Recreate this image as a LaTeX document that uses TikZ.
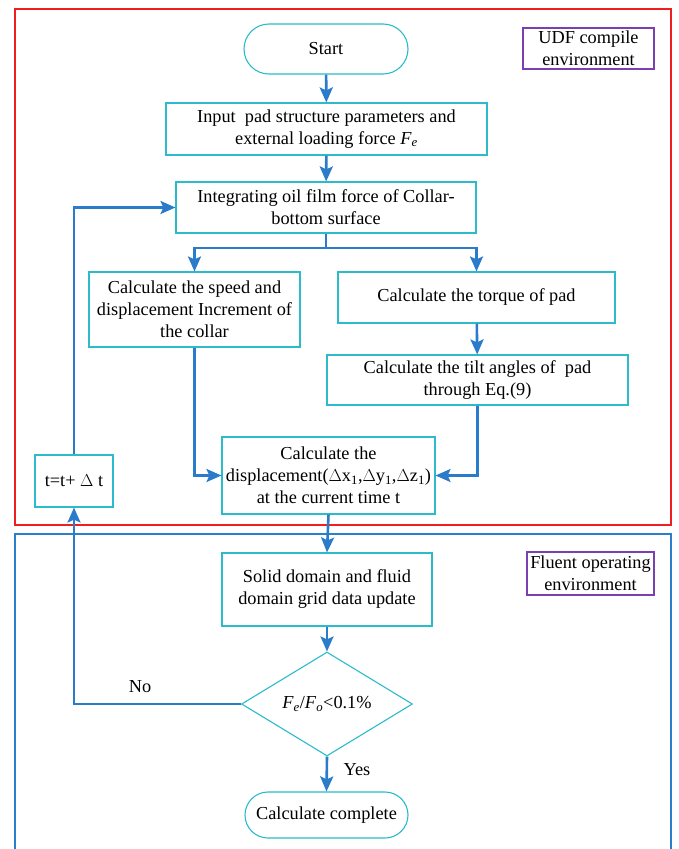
\documentclass[tikz,border=0pt]{standalone}
\usepackage{fontspec}
\setmainfont{Liberation Serif}
\usetikzlibrary{shapes.geometric,arrows.meta}
\definecolor{arrowblue}{HTML}{2A7BC9}
\definecolor{boxcyan}{HTML}{2BBBCC}
\definecolor{framered}{HTML}{F01E1E}
\definecolor{frameblue}{HTML}{2A7FCC}
\definecolor{tagpurple}{HTML}{7A3FB0}
\begin{document}
\begin{tikzpicture}[x=1pt,y=-1pt,
  font=\fontsize{18.3}{22}\selectfont,
  box/.style={draw=boxcyan, line width=1.1pt, align=center, inner sep=0pt, fill=white},
  term/.style={box, rounded corners=25pt},
  tag/.style={draw=tagpurple, line width=1.1pt, align=center, inner sep=0pt},
  frame/.style={line width=1.6pt},
  flow/.style={draw=arrowblue, line width=2.6pt, -{Stealth[length=15pt,width=13pt,inset=3pt]}},
  line/.style={draw=arrowblue, line width=2.6pt}]
\useasboundingbox (0,0) rectangle (678,849);
% frames
\draw[frame, draw=framered] (15,9) rectangle (671,525);
\draw[frame, draw=frameblue] (15,534) rectangle (671,860);
% tags
\node[tag, minimum width=131, minimum height=41] (udf) at (588.5,48.5) {UDF compile\\environment};
\node[tag, minimum width=127, minimum height=43] (fluent) at (590.5,573.5) {Fluent operating\\environment};
% nodes
\node[term, minimum width=164, minimum height=50] (start) at (326,49) {Start};
\node[box, minimum width=321, minimum height=52] (input) at (326.5,129) {Input\ \ pad structure parameters and\\external loading force \textit{F}\textsubscript{\textit{e}}};
\node[box, minimum width=300, minimum height=51] (integ) at (326,207.5) {Integrating oil film force of Collar-\\bottom surface};
\node[box, minimum width=211, minimum height=75] (speed) at (194.5,309.5) {Calculate the speed and\\displacement Increment of\\the collar};
\node[box, minimum width=277, minimum height=51] (torque) at (476.5,297.5) {Calculate the torque of pad};
\node[box, minimum width=301, minimum height=50] (tilt) at (477.5,380) {Calculate the tilt angles of\ \ pad\\through Eq.(9)};
\node[box, minimum width=213, minimum height=77] (disp) at (328.5,475.5) {Calculate the\\displacement(\(\Delta\)x\textsubscript{1},\(\Delta\)y\textsubscript{1},\(\Delta\)z\textsubscript{1})\\at the current time t};
\node[box, minimum width=78, minimum height=52] (tstep) at (74,481) {t=t+ \(\Delta\) t};
\node[box, minimum width=210, minimum height=73] (solid) at (327,589.5) {Solid domain and fluid\\domain grid data update};
\node[diamond, draw=boxcyan, line width=1.1pt, inner sep=0pt, aspect=1.64, minimum width=171, minimum height=104] (check) at (327,704) {\textit{F}\textsubscript{\textit{e}}/\textit{F}\textsubscript{\textit{o}}<0.1\%};
\node[term, minimum width=163, minimum height=46, rounded corners=23pt] (done) at (326.5,815) {Calculate complete};
% connectors
\coordinate (split) at (326,248);
\coordinate (split L) at (194.5,248);
\coordinate (split R) at (476.5,248);
\draw[flow] (start) -- (input);
\draw[flow] (input) -- (integ);
\draw[line] (integ.south) -- (split);
\draw[flow] (split) -- (split L) -- (speed.north);
\draw[flow] (split) -- (split R) -- (torque.north);
\draw[flow] (torque) -- (tilt);
\draw[flow] (speed.south) |- (disp.west);
\draw[flow] (tilt.south) |- (disp.east);
\draw[flow] (disp.south) -- (solid.north);
\draw[flow] (solid) -- (check);
\draw[flow] (check.west) -| (tstep.south);
\draw[flow] (tstep.north) |- (integ.west);
\draw[flow] (check.south) -- (done.north);
% labels
\node (no) at (140,687) {No};
\node (yes) at (357,770) {Yes};
\end{tikzpicture}
\end{document}
